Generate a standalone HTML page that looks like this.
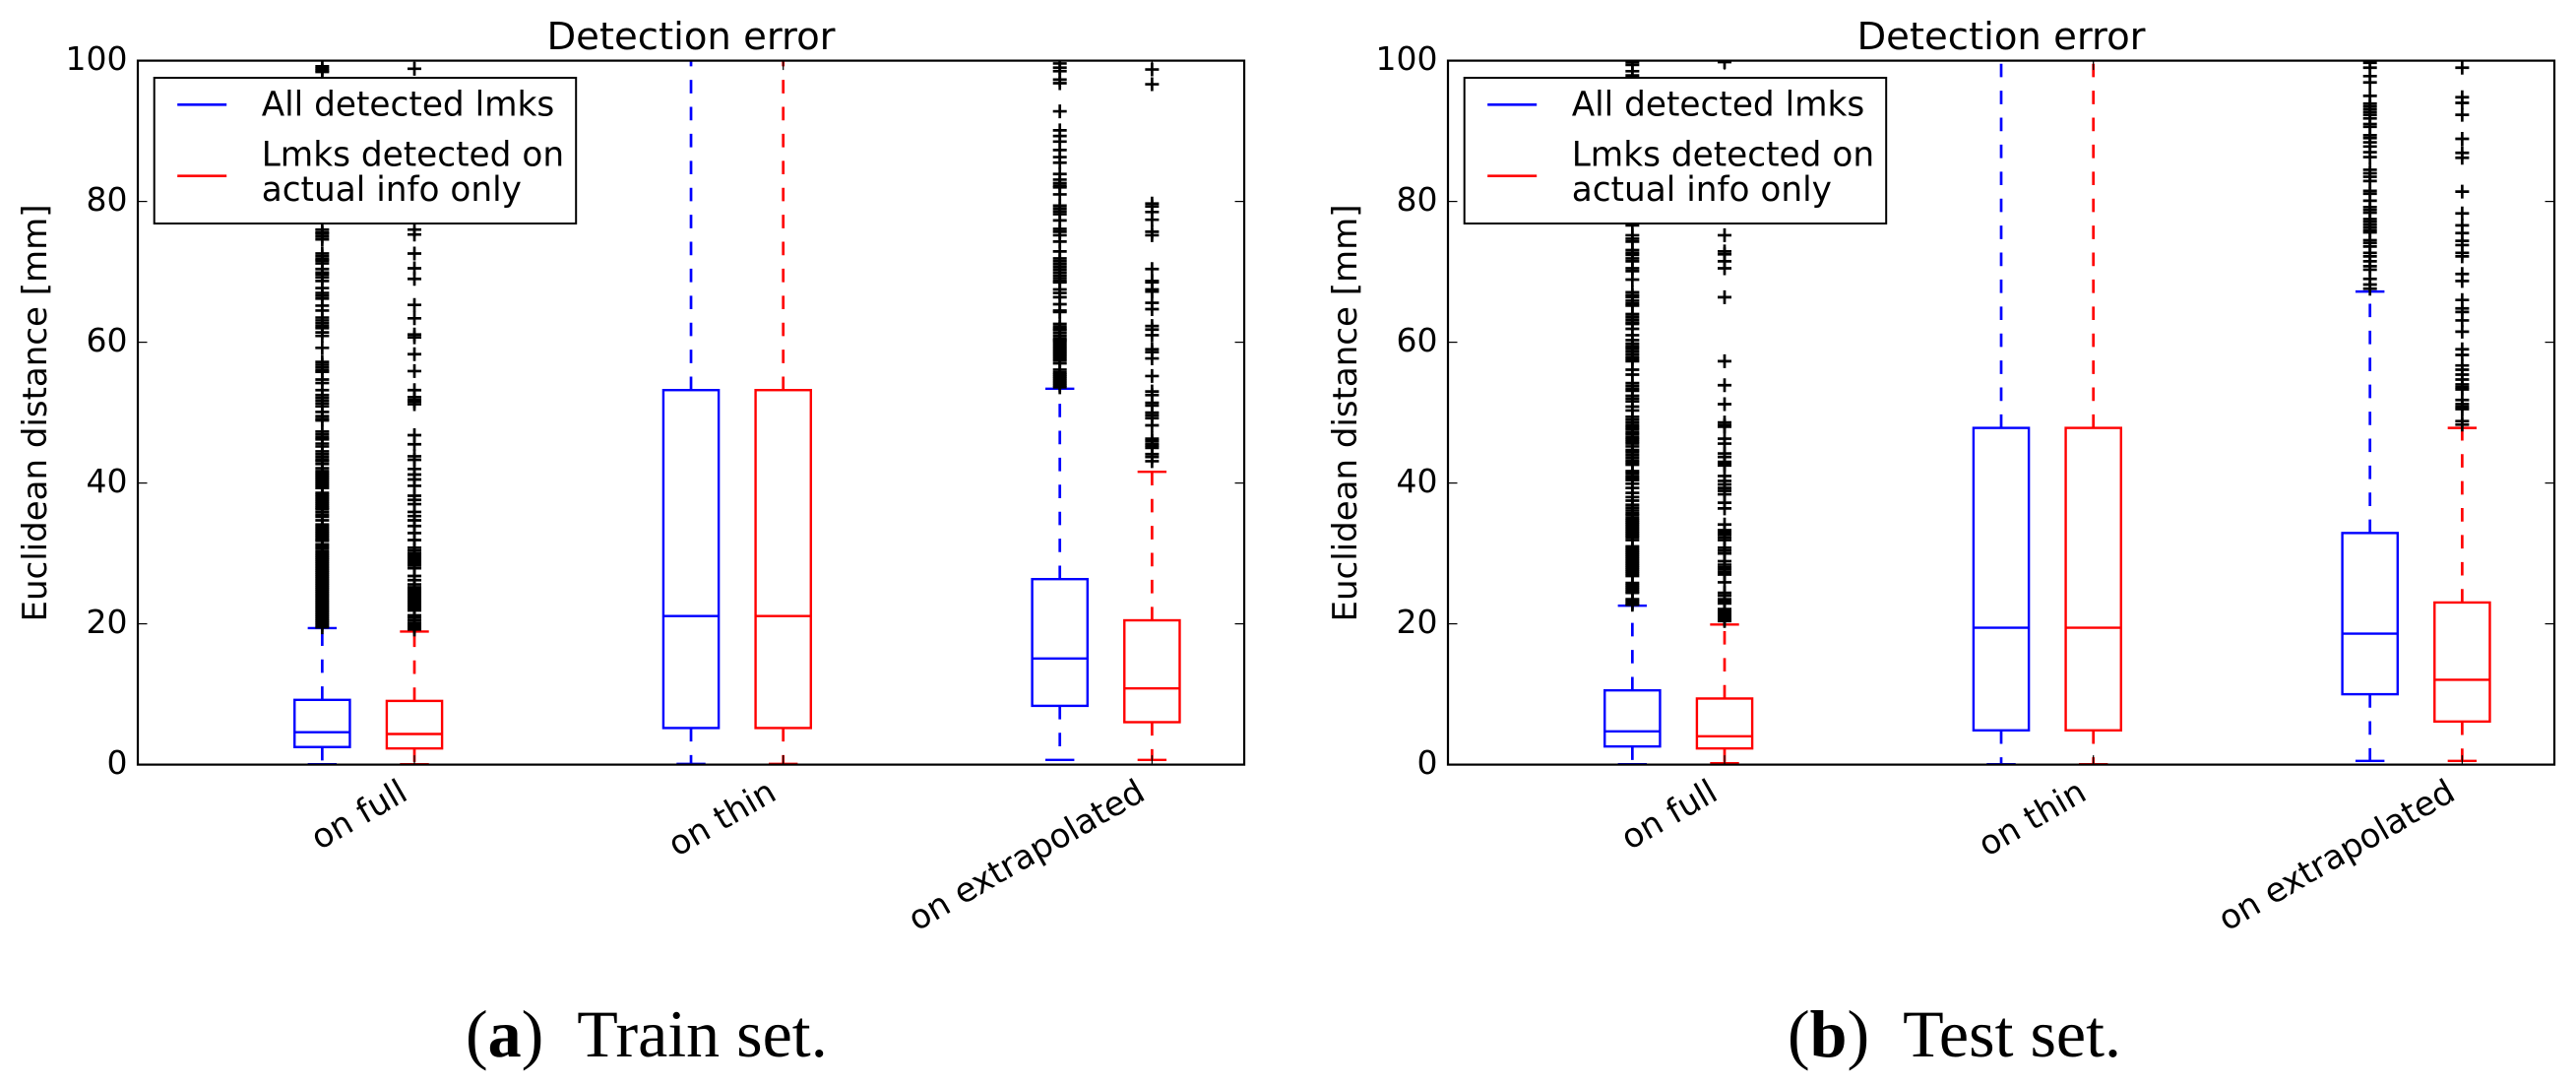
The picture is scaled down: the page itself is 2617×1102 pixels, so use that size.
<!DOCTYPE html>
<html>
<head>
<meta charset="utf-8">
<title>Detection error</title>
<style>
html,body{margin:0;padding:0;background:#fff;}
svg{display:block;}
text{fill:#000;}
</style>
</head>
<body>
<svg id="figure" xmlns="http://www.w3.org/2000/svg" width="2617" height="1102" viewBox="0 0 2617 1102"></svg>
<script>
const groupLabels = ['on full', 'on thin', 'on extrapolated'];
const yTickValues = [0, 20, 40, 60, 80, 100];
const legendAll = ['All detected lmks'];
const legendActual = ['Lmks detected on', 'actual info only'];

const trainAllQ1 = [2.5, 5.2, 8.35];
const trainAllMedian = [4.6, 21.1, 15.07];
const trainAllQ3 = [9.2, 53.2, 26.35];
const trainAllLow = [0.05, 0.1, 0.67];
const trainAllHigh = [19.4, 125, 53.4];
const trainActualQ1 = [2.3, 5.2, 6.03];
const trainActualMedian = [4.35, 21.1, 10.83];
const trainActualQ3 = [9.05, 53.2, 20.5];
const trainActualLow = [0.05, 0.1, 0.67];
const trainActualHigh = [18.9, 125, 41.6];

const testAllQ1 = [2.58, 4.87, 10];
const testAllMedian = [4.73, 19.45, 18.6];
const testAllQ3 = [10.55, 47.83, 32.9];
const testAllLow = [0.05, 0.05, 0.53];
const testAllHigh = [22.57, 111, 67.2];
const testActualQ1 = [2.3, 4.87, 6.12];
const testActualMedian = [4.03, 19.45, 12.05];
const testActualQ3 = [9.39, 47.83, 23.03];
const testActualLow = [0.2, 0.05, 0.53];
const testActualHigh = [19.9, 111, 47.83];

const trainAllFullFliers = [99.2,98.9,98.6,98.4,76,75.6,75.4,75,74.6,72.6,72.2,71.8,71.6,71.2,70.4,69.9,69.6,69.2,68.7,67.7,67,66.6,66.2,65.2,64.5,63.5,63.1,62.7,62.3,62,61.4,60.9,59.2,57.2,56.8,56.4,56,55.8,54.7,54.2,53.2,52.5,52.1,51.7,51.3,50.9,50.1,49.5,49.1,48.9,47.3,46.9,46.5,46.2,45.6,45.2,44.5,44.1,43.7,43.3,43.1,42.7,42.1,41.7,41.4,41.1,40.8,40.5,40.2,39.9,39.6,39.3,38.6,38.3,38,37.7,37.4,37.1,36.8,36.5,36.3,35.9,35.5,35.2,34.7,34.1,33.8,33.5,33.2,32.9,32.6,32.3,32,31.8,31.3,31,30.7,30.3,30,29.7,29.4,29.1,28.8,28.5,28.2,27.9,27.6,27.3,27,26.7,26.4,26.1,25.8,25.5,25.2,24.9,24.6,24.3,24,23.7,23.4,23.1,22.8,22.5,22.2,21.9,21.6,21.3,21,20.7,20.4,20.1,19.8,19.5];
const trainActualFullFliers = [98.85,76,75.3,72.6,70.5,69,65.3,63.4,61.1,60.7,58.3,55.9,53.2,52.2,51.8,51.6,51.2,46.8,45.5,43.8,43.3,42,41.2,40.5,39.6,38.2,37.6,37,35.9,35.3,34.7,33.9,32.9,31.9,30.8,30.4,30,29.8,29.5,29.2,28.9,28.6,28.3,27.9,26.8,26.2,25.6,25.2,24.9,24.6,24.3,24,23.7,23.4,23.1,22.8,22.5,22.2,21.9,21.2,20.9,20.5,20.1,19.8,19.5,19.2];
const trainAllExtrapFliers = [99.6,99,98.5,97.3,96.8,92.8,90.1,89.3,88.5,87.3,86.3,85.5,83.9,83.1,82.6,82.2,82,81,79.4,79,78.6,78.2,77.3,76.1,75.7,75.2,74.3,72.9,71.9,71.5,71.1,70.7,70.3,69.9,69.5,69.1,68.7,68.5,67.5,67,66.4,65.4,64.5,64.3,62.6,62.2,61.9,61.7,61.3,60.9,60.5,60.3,60.1,59.8,59.5,59.2,58.9,58.6,58.3,58,57.7,57.4,57,56.1,55.7,55.4,55.1,54.8,54.5,54.2,53.9,53.6];
const trainActualExtrapFliers = [98.75,96.65,79.7,79.3,78.5,77.4,75.7,75.2,70.4,68.7,68.5,67.5,67.2,65.6,64.7,62.3,61.8,61,59,58.6,57.7,55.2,53,52.5,51.4,51,50,49.6,49.2,48.2,46.3,46,45.6,45.3,45,44.1,43.7,43.1];

const testAllFullFliers = [99.8,99.4,98.5,97.9,76.6,75.2,74.7,74.3,73.1,72.7,72.4,71.9,71.5,70.5,70.1,68.9,67.1,66.7,66.4,65.9,65.5,65.2,64,63.6,63.2,62.8,62.6,61.9,61,60.3,59.8,59.4,59.1,58.7,58.3,57.9,57.6,57.3,56.1,55.4,54.2,53.8,53.4,53.1,52.4,52,51.6,50.85,50.3,49.4,49,48.6,48.2,47.9,47.6,47.2,46.9,46.5,46.2,45.9,45.6,45.2,44.7,44.4,44,43.6,43.2,42.9,42.6,41.7,41.4,41,40.7,40.4,39.9,39.3,38.6,38,37.5,36.9,36.5,36.1,35.7,35.4,35,34.7,34.4,34.1,33.8,33.5,33.2,32.9,32.6,32.3,31.9,31,30.7,30.4,30.1,29.8,29.5,29.2,28.9,28.6,28.3,28,27.7,27.4,27.1,26.8,25.8,25.5,25.2,24.9,24.6,24.4,23.5,23.2,22.9,22.7];
const testActualFullFliers = [99.8,75.2,72.9,72.5,71.5,70.5,66.4,57.3,53.9,51.2,48.6,48.2,48,46.3,45.6,44.2,43.7,43,42.7,42.5,41,40.3,39.8,39.3,38.9,38.4,37.2,36.4,34.1,33.3,33,32.7,32.3,31.9,30.8,30.4,30,28.9,28.4,28,27.7,27.3,27,25.9,24.4,24,23.5,23.2,22.9,22.1,21.8,21.5,21.2,20.9,20.6,20.4];
const testAllExtrapFliers = [99.7,99,97.8,96.9,95,93.9,93.5,93.1,92.7,92.3,91.8,91,90.6,89.4,89,88.4,87.8,87,86.3,84.5,84,83.5,82.9,81.5,81.1,80.1,79.2,78.8,78.4,77.5,77.1,76.7,76.3,75.9,75.6,74.5,74.1,73.6,72.7,72.2,71.5,70.8,70.3,69,68.2,67.6];
const testActualExtrapFliers = [99,94.8,94,92.3,88.9,86.9,86.2,81.4,78.3,76.6,75.5,74.4,73.8,72.7,72.2,69.7,68.7,66,64.8,64.3,63.1,61.5,59,58.2,56.7,56.1,55.4,54.7,54,53.6,53.3,51.8,51.2,50.8,50.5,48.8,48.3];

const NS = 'http://www.w3.org/2000/svg';
const root = document.getElementById('figure');
const FONT = '"DejaVu Sans", sans-serif';
const AXIS_TOP = 61.6, AXIS_BOTTOM = 776.6, UNIT_X = 93.67;

function node(parent, tag, props, content) {
  const e = document.createElementNS(NS, tag);
  for (const k in props) e.setAttribute(k, props[k]);
  if (content !== undefined) e.textContent = content;
  parent.appendChild(e);
  return e;
}

function drawPanel(cfg) {
  const left = cfg.left;
  const right = left + 12 * UNIT_X;
  const xScale = p => left + p * UNIT_X;
  const yScale = v => AXIS_BOTTOM - v * (AXIS_BOTTOM - AXIS_TOP) / 100;

  const panel = node(root, 'g', {});
  
  

  const clipId = cfg.name + '-clip';
  const defs = node(panel, 'defs', {});
  const clip = node(defs, 'clipPath', {id: clipId});
  node(clip, 'rect', {x: left, y: AXIS_TOP, width: right - left, height: AXIS_BOTTOM - AXIS_TOP});

  const marks = node(panel, 'g', {'clip-path': 'url(#' + clipId + ')'});
  
  

  cfg.series.forEach(function (s) {
    groupLabels.forEach(function (label, i) {
      const pos = s.offset + i * 4;
      const cx = xScale(pos);
      const halfBox = 0.3 * UNIT_X;
      const halfCap = 0.157 * UNIT_X;
      const group = node(marks, 'g', {stroke: s.color, 'stroke-width': 2.4, fill: 'none'});
      
      

      const whiskerUp = node(group, 'line', {x1: cx, x2: cx, y1: yScale(s.q3[i]), y2: yScale(s.high[i]), 'stroke-dasharray': '13.7 13.7', 'stroke-width': 2.7});
      
      
      const whiskerDown = node(group, 'line', {x1: cx, x2: cx, y1: yScale(s.q1[i]), y2: yScale(s.low[i]), 'stroke-dasharray': '13.7 13.7', 'stroke-width': 2.7});
      
      
      const capUp = node(group, 'line', {x1: cx - halfCap, x2: cx + halfCap, y1: yScale(s.high[i]), y2: yScale(s.high[i])});
      
      
      const capDown = node(group, 'line', {x1: cx - halfCap, x2: cx + halfCap, y1: yScale(s.low[i]), y2: yScale(s.low[i])});
      
      
      const box = node(group, 'rect', {x: cx - halfBox, y: yScale(s.q3[i]), width: 2 * halfBox, height: yScale(s.q1[i]) - yScale(s.q3[i])});
      
      
      const median = node(group, 'line', {x1: cx - halfBox, x2: cx + halfBox, y1: yScale(s.median[i]), y2: yScale(s.median[i])});
      
      

      s.fliers[i].forEach(function (v) {
        const y = yScale(v);
        const plus = node(marks, 'path', {d: 'M' + (cx - 7) + ' ' + y + 'H' + (cx + 7) + 'M' + cx + ' ' + (y - 7) + 'V' + (y + 7), stroke: '#000', 'stroke-width': 2.7, fill: 'none'});
        
        
      });
    });
  });

  const frame = node(panel, 'rect', {x: left, y: AXIS_TOP, width: right - left, height: AXIS_BOTTOM - AXIS_TOP, fill: 'none', stroke: '#000', 'stroke-width': 2.2});
  
  

  yTickValues.forEach(function (v) {
    const y = yScale(v);
    if (v > 0 && v < 100) {
      const tl = node(panel, 'line', {x1: left, x2: left + 9.5, y1: y, y2: y, stroke: '#000', 'stroke-width': 1.2});
      
      
      const tr = node(panel, 'line', {x1: right, x2: right - 9.5, y1: y, y2: y, stroke: '#000', 'stroke-width': 1.2});
      
      
    }
    const label = node(panel, 'text', {x: left - 10.5, y: y + 9.5, 'text-anchor': 'end', 'font-family': FONT, 'font-size': 33}, String(v));
    
    
  });

  groupLabels.forEach(function (label, i) {
    const x = xScale(3 + i * 4);
    const top = node(panel, 'line', {x1: x, x2: x, y1: AXIS_TOP, y2: AXIS_TOP + 9.5, stroke: '#000', 'stroke-width': 1.2});
    
    
    const bottom = node(panel, 'line', {x1: x, x2: x, y1: AXIS_BOTTOM, y2: AXIS_BOTTOM - 9.5, stroke: '#000', 'stroke-width': 1.2});
    
    
    const ax = x - 5, ay = 811;
    const t = node(panel, 'text', {x: ax, y: ay, 'text-anchor': 'end', 'font-family': FONT, 'font-size': 34, transform: 'rotate(-30 ' + ax + ' ' + ay + ')'}, label);
    
    
  });

  const title = node(panel, 'text', {x: (left + right) / 2, y: 50, 'text-anchor': 'middle', 'font-family': FONT, 'font-size': 38.6}, 'Detection error');
  
  

  const yTitleX = left - 93, yTitleY = 419.5;
  const yTitle = node(panel, 'text', {x: yTitleX, y: yTitleY, 'text-anchor': 'middle', 'font-family': FONT, 'font-size': 34, transform: 'rotate(-90 ' + yTitleX + ' ' + yTitleY + ')'}, 'Euclidean distance [mm]');
  
  

  const legend = node(panel, 'g', {});
  
  
  const lx = left + 16.7;
  const legendBox = node(legend, 'rect', {x: lx, y: 79, width: 428.5, height: 148, fill: '#fff', stroke: '#000', 'stroke-width': 2});
  
  
  const lineAll = node(legend, 'line', {x1: lx + 23.5, x2: lx + 73.5, y1: 106.3, y2: 106.3, stroke: '#00f', 'stroke-width': 2.6});
  
  
  const lineActual = node(legend, 'line', {x1: lx + 23.5, x2: lx + 73.5, y1: 178.7, y2: 178.7, stroke: '#f00', 'stroke-width': 2.6});
  
  
  const t1 = node(legend, 'text', {x: lx + 109, y: 117.3, 'font-family': FONT, 'font-size': 34.3}, legendAll[0]);
  
  
  const t2 = node(legend, 'text', {x: lx + 109, y: 168.3, 'font-family': FONT, 'font-size': 34.3}, legendActual[0]);
  
  
  const t3 = node(legend, 'text', {x: lx + 109, y: 204, 'font-family': FONT, 'font-size': 34.3}, legendActual[1]);
  
  
}

drawPanel({
  name: 'train-set-panel',
  left: 140,
  series: [
    {key: 'all-detected', color: '#00f', offset: 2, q1: trainAllQ1, median: trainAllMedian, q3: trainAllQ3, low: trainAllLow, high: trainAllHigh, fliers: [trainAllFullFliers, [], trainAllExtrapFliers]},
    {key: 'actual-info', color: '#f00', offset: 3, q1: trainActualQ1, median: trainActualMedian, q3: trainActualQ3, low: trainActualLow, high: trainActualHigh, fliers: [trainActualFullFliers, [], trainActualExtrapFliers]}
  ]
});
drawPanel({
  name: 'test-set-panel',
  left: 1471,
  series: [
    {key: 'all-detected', color: '#00f', offset: 2, q1: testAllQ1, median: testAllMedian, q3: testAllQ3, low: testAllLow, high: testAllHigh, fliers: [testAllFullFliers, [], testAllExtrapFliers]},
    {key: 'actual-info', color: '#f00', offset: 3, q1: testActualQ1, median: testActualMedian, q3: testActualQ3, low: testActualLow, high: testActualHigh, fliers: [testActualFullFliers, [], testActualExtrapFliers]}
  ]
});

function caption(name, x, letter, rest) {
  const c = node(root, 'text', {x: x, y: 1073, 'font-family': '"Liberation Serif", serif', 'font-size': 68});
  
  
  node(c, 'tspan', {}, '(');
  node(c, 'tspan', {'font-weight': 'bold'}, letter);
  node(c, 'tspan', {}, ')\u00a0\u00a0' + rest);
}
caption('caption-train-set', 473, 'a', 'Train set.');
caption('caption-test-set', 1816, 'b', 'Test set.');
</script>
</body>
</html>
